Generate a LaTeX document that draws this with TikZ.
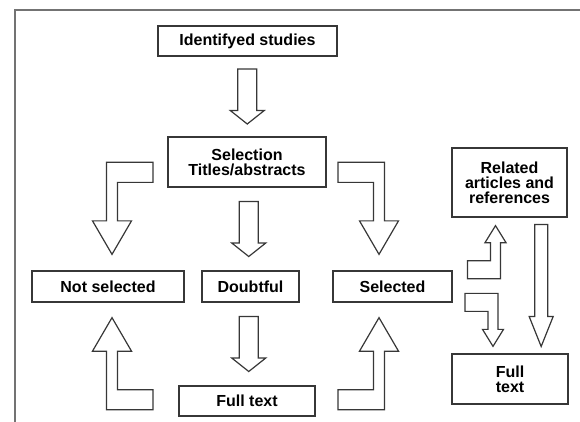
\documentclass[tikz,border=0pt]{standalone}
\usepackage{fontspec}
\setmainfont{Liberation Sans}
\usetikzlibrary{calc}
\tikzset{font={\fontsize{16pt}{15}\selectfont\bfseries}}
\definecolor{framegray}{RGB}{115,115,115}
\definecolor{linegray}{RGB}{55,55,55}

\begin{document}
\begin{tikzpicture}[x=1pt,y=-1pt,
box/.style={draw=linegray,line width=1.3pt,inner sep=0pt,align=center,minimum height=31},
block/.style={draw=linegray,line width=1.2pt,fill=white,line join=miter},
short arrow/.pic={\draw[block] (0,27.5) -- (17,14) -- (9.5,14) -- (9.5,-27.5) -- (-9.5,-27.5) -- (-9.5,14) -- (-17,14) -- cycle;},
long arrow/.pic={\draw[block] (0,61) -- (12,31) -- (6.5,31) -- (6.5,-61) -- (-6.5,-61) -- (-6.5,31) -- (-12,31) -- cycle;},
bent arrow/.pic={\draw[block] (0,0) -- (-19.5,-33.5) -- (-5.5,-33.5) -- (-5.5,-92) -- (41,-92) -- (41,-72) -- (5.5,-72) -- (5.5,-33.5) -- (19.5,-33.5) -- cycle;},
small bent arrow/.pic={\draw[block] (0,0) -- (10.5,17) -- (5,17) -- (5,53) -- (-28,53) -- (-28,35) -- (-5,35) -- (-5,17) -- (-10.5,17) -- cycle;}
]
\useasboundingbox (0,0) rectangle (580,422);
\draw[framegray,line width=1.5pt] (580,10) -- (15,10) -- (15,422);

\node[box,minimum width=179,minimum height=30] (ident) at (247.5,41) {Identifyed studies};
\node[box,minimum width=158,minimum height=50] (sel) at (247,162) {Selection\\Titles/abstracts};
\node[box,minimum width=152] (notsel) at (108,286.5) {Not selected};
\node[box,minimum width=97] (doubt) at (250.5,286.5) {Doubtful};
\node[box,minimum width=119] (selected) at (392.5,286.5) {Selected};
\node[box,minimum width=136,minimum height=30] (full) at (247,401) {Full text};
\node[box,minimum width=115,minimum height=69] (related) at (509.5,182.5) {Related\\articles and\\references};
\node[box,minimum width=116,minimum height=50] (fulltwo) at (510,379) {Full\\text};

% straight block arrows
\pic at ($(ident.south)!.5!(sel.north)$) {short arrow};
\pic at ($(sel.south)!.5!(doubt.north)$) {short arrow};
\pic at ($(doubt.south)!.5!(full.north)$) {short arrow};
\pic at ($(related.south east)!.5!(fulltwo.north east)+(-27,0)$) {long arrow};

% bent block arrows
\pic at ($(notsel.north)+(4,-16)$) {bent arrow};
\pic[yscale=-1] at ($(notsel.south)+(4,15)$) {bent arrow};
\pic[xscale=-1] at ($(selected.north)+(-13.5,-16)$) {bent arrow};
\pic[xscale=-1,yscale=-1] at ($(selected.south)+(-13.5,15)$) {bent arrow};
\pic at ($(related.south)+(-14,8)$) {small bent arrow};
\pic[yscale=-1] at ($(fulltwo.north)+(-17,-7)$) {small bent arrow};

\end{tikzpicture}
\end{document}
